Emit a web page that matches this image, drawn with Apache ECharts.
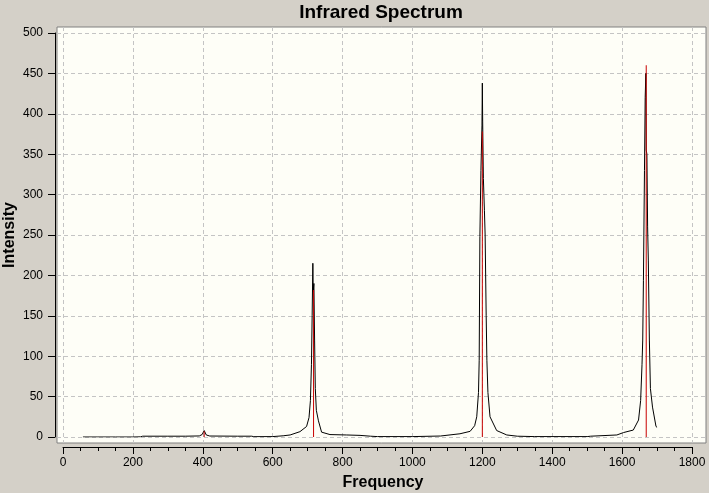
<!DOCTYPE html>
<html>
<head>
<meta charset="utf-8">
<script src="https://cdn.jsdelivr.net/npm/echarts@6/dist/echarts.min.js"></script>
<style>
  html, body { margin: 0; padding: 0; background: #d4d0c8; }
  #chart { width: 709px; height: 493px; }
</style>
</head>
<body>
<div id="chart"></div>
<script>
// broadened spectrum (black curve)
const spectrumFreq = [
  57, 100, 150, 200, 222, 228, 300, 350, 390, 398, 404, 410, 420, 500, 540, 546, 600, 630, 650, 678,
  697, 704, 708, 711, 713, 715, 716, 718, 720, 722, 725, 731, 740, 764, 812, 850, 880, 900, 1000, 1005,
  1080, 1136, 1165, 1178, 1184, 1189, 1191, 1193, 1196, 1199, 1200, 1201, 1203, 1206, 1208, 1211, 1213, 1216, 1222, 1241,
  1270, 1300, 1350, 1500, 1510, 1585, 1604, 1632, 1647, 1653, 1657, 1659, 1661, 1664, 1666, 1668, 1669, 1671, 1673, 1675,
  1678, 1681, 1687, 1697, 1700
]
const spectrumIntensity = [
  0, 0, 0, 0, 0.2, 1, 1, 1, 1.3, 3, 8, 2.5, 1.2, 1, 1, 0.4, 0.5, 1.5, 2.5, 6.6,
  13, 24, 45, 90, 150, 215, 180, 190, 120, 60, 33, 20, 6, 3, 2.5, 2, 1, 0.5, 0.5, 1,
  1.2, 4, 7, 14, 25, 55, 95, 248, 330, 386, 438, 390, 320, 280, 250, 150, 95, 55, 25, 8,
  2.5, 1, 0.5, 0.5, 1, 2.5, 5.5, 8.6, 21, 45, 90, 120, 194, 330, 420, 450, 355, 350, 260, 219,
  120, 60, 37, 13, 12
]

// stick spectrum (red lines)
const stickFreq = [404, 717, 1200, 1669]
const stickIntensity = [7, 182, 378, 460]

// grid line positions / tick labels
const xGridValues = [0, 200, 400, 600, 800, 1000, 1200, 1400, 1600, 1800]
const yGridValues = [0, 50, 100, 150, 200, 250, 300, 350, 400, 450, 500]

const curve = spectrumFreq.map((f, i) => [f, spectrumIntensity[i]])
const sticks = stickFreq.map((f, i) => [f, stickIntensity[i]])

const font = 'Arial, "Liberation Sans", sans-serif'
const plain = v => String(v)
const noBounds = { outerBoundsMode: 'none', containLabel: false }
const hidden = (gridIndex, min, max) => ({ gridIndex, type: 'value', min, max, show: false })

const chart = echarts.init(document.getElementById('chart'))
chart.setOption({
  backgroundColor: '#d4d0c8',
  animation: false,
  title: {
    text: 'Infrared Spectrum',
    left: 381,
    top: 3,
    padding: 0,
    textAlign: 'center',
    textStyle: { fontFamily: font, fontSize: 19, fontWeight: 'bold', color: '#000' }
  },
  grid: [
    // 0: plot background with dashed grid
    { left: 57, top: 27, right: 3, bottom: 50, show: true, backgroundColor: '#fefef7',
      borderColor: '#808080', borderWidth: 1, ...noBounds },
    // 1: data area
    { left: 63, top: 33, right: 17, bottom: 56, ...noBounds },
    // 2: x axis below the plot
    { left: 63, top: 33, right: 17, bottom: 46, ...noBounds },
    // 3: y axis left of the plot
    { left: 55, top: 33, right: 17, bottom: 56, ...noBounds }
  ],
  xAxis: [
    {
      gridIndex: 0, type: 'value', min: -17.2, max: 1840.3,
      axisLine: { show: false }, axisLabel: { show: false },
      axisTick: { show: false, customValues: xGridValues },
      splitLine: { show: true, lineStyle: { color: '#c4c4c4', type: [4, 3] } }
    },
    hidden(1, 0, 1800),
    {
      gridIndex: 2, type: 'value', min: 0, max: 1800, interval: 200,
      name: 'Frequency', nameLocation: 'middle', nameGap: 28, nameMoveOverlap: false,
      nameTextStyle: { fontFamily: font, fontSize: 16, fontWeight: 'bold', color: '#000', padding: [0, 0, 0, 11] },
      axisLine: { lineStyle: { color: '#000', width: 1 } },
      axisTick: { length: 7, lineStyle: { color: '#000' } },
      minorTick: { show: true, splitNumber: 4, length: 4, lineStyle: { color: '#000' } },
      axisLabel: { margin: 10, fontFamily: font, fontSize: 12, color: '#000', formatter: plain },
      splitLine: { show: false }
    },
    hidden(3, 0, 1800)
  ],
  yAxis: [
    {
      gridIndex: 0, type: 'value', min: -7.4, max: 507.4,
      axisLine: { show: false }, axisLabel: { show: false },
      axisTick: { show: false, customValues: yGridValues },
      splitLine: { show: true, lineStyle: { color: '#c4c4c4', type: [4, 3] } }
    },
    hidden(1, 0, 500),
    hidden(2, 0, 500),
    {
      gridIndex: 3, type: 'value', min: 0, max: 500, interval: 50,
      name: 'Intensity', nameLocation: 'middle', nameGap: 37, nameMoveOverlap: false,
      nameTextStyle: { fontFamily: font, fontSize: 16, fontWeight: 'bold', color: '#000' },
      axisLine: { show: true, lineStyle: { color: '#000', width: 1 } },
      axisTick: { length: 7, lineStyle: { color: '#000' } },
      axisLabel: { margin: 12, fontFamily: font, fontSize: 12, color: '#000', formatter: plain },
      splitLine: { show: false }
    }
  ],
  series: [
    {
      type: 'line', xAxisIndex: 1, yAxisIndex: 1, data: curve,
      showSymbol: false, symbol: 'none',
      lineStyle: { color: '#000', width: 1 }, z: 3
    },
    {
      type: 'bar', xAxisIndex: 1, yAxisIndex: 1, data: sticks,
      barWidth: 1, itemStyle: { color: '#c80000' }, z: 4
    }
  ]
})
</script>
</body>
</html>
